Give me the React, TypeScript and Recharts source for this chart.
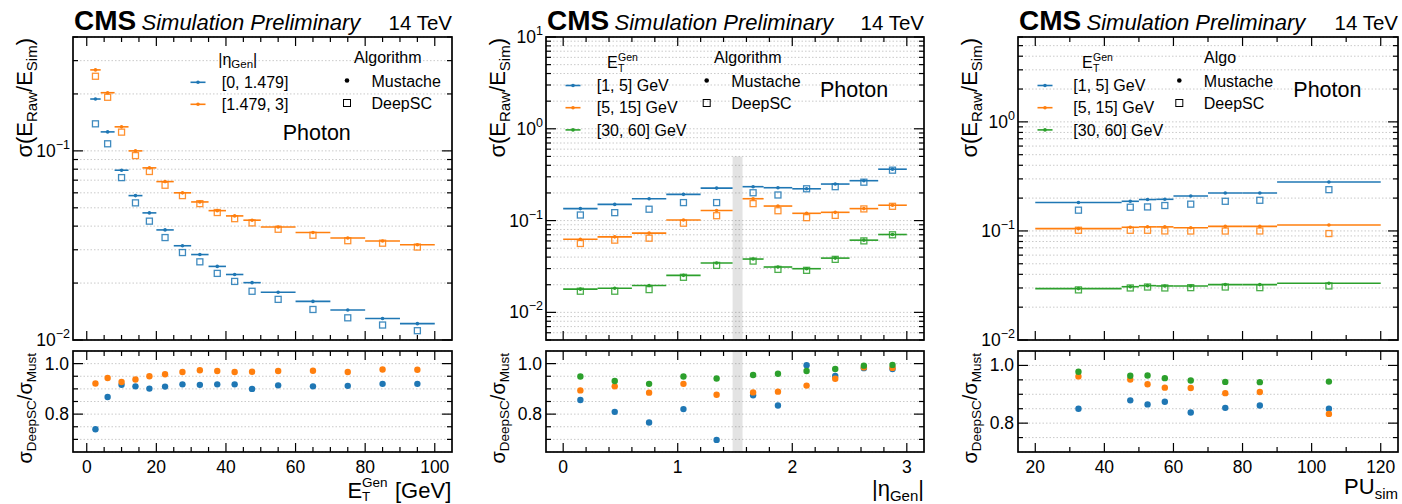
import React from 'react';
import { ComposedChart, Scatter, XAxis, YAxis, CartesianGrid, ErrorBar, ReferenceArea } from 'recharts';

const FONT = '"Liberation Sans", Arial, Helvetica, sans-serif';
const BLUE = '#1f77b4';
const ORANGE = '#ff7f0e';
const GREEN = '#2ca02c';

// ---- left panel: resolution vs E_T^Gen, two |eta| regions ----
const etEdges = [1, 4, 8, 12, 16, 20, 25, 30, 35, 40, 45, 50, 60, 70, 80, 90, 100];
const etMustBarrel = [0.188, 0.126, 0.079, 0.058, 0.047, 0.0382, 0.0315, 0.0283, 0.0245, 0.0222, 0.0201, 0.0179, 0.016, 0.0144, 0.013, 0.0122];
const etDeepBarrel = [0.139, 0.109, 0.0722, 0.0531, 0.0425, 0.0348, 0.029, 0.0259, 0.0225, 0.0204, 0.0181, 0.0164, 0.0145, 0.0131, 0.012, 0.0112];
const etMustEndcap = [0.268, 0.203, 0.134, 0.1, 0.0813, 0.0688, 0.06, 0.0537, 0.0483, 0.0453, 0.043, 0.0396, 0.037, 0.0346, 0.0334, 0.0319];
const etDeepEndcap = [0.248, 0.192, 0.1256, 0.0944, 0.0778, 0.0658, 0.058, 0.0526, 0.0472, 0.0438, 0.0416, 0.0385, 0.0358, 0.0335, 0.0325, 0.031];
const etRatioBarrel = [0.74, 0.868, 0.916, 0.91, 0.901, 0.909, 0.918, 0.916, 0.918, 0.918, 0.9, 0.914, 0.91, 0.912, 0.92, 0.92];
const etRatioEndcap = [0.921, 0.943, 0.927, 0.937, 0.95, 0.958, 0.967, 0.974, 0.971, 0.967, 0.968, 0.971, 0.972, 0.967, 0.977, 0.976];

// ---- middle panel: resolution vs |eta_Gen|, three E_T bins ----
const etaLo = [0, 0.3, 0.6, 0.9, 1.2, 1.566, 1.75, 2.0, 2.25, 2.5, 2.75];
const etaHi = [0.3, 0.6, 0.9, 1.2, 1.479, 1.75, 2.0, 2.25, 2.5, 2.75, 3.0];
const etaGap = [1.479, 1.566];
const etaMust1 = [0.135, 0.15, 0.173, 0.193, 0.226, 0.234, 0.228, 0.222, 0.25, 0.272, 0.363];
const etaDeep1 = [0.115, 0.122, 0.133, 0.157, 0.157, 0.201, 0.19, 0.222, 0.234, 0.262, 0.354];
const etaMust2 = [0.0627, 0.0665, 0.073, 0.1016, 0.129, 0.173, 0.144, 0.12, 0.123, 0.135, 0.147];
const etaDeep2 = [0.0563, 0.0612, 0.0643, 0.0936, 0.113, 0.153, 0.128, 0.1076, 0.114, 0.134, 0.143];
const etaMust3 = [0.0179, 0.0183, 0.0196, 0.0253, 0.0345, 0.0381, 0.0312, 0.0299, 0.039, 0.0612, 0.0705];
const etaDeep3 = [0.017, 0.017, 0.0177, 0.0241, 0.0325, 0.0362, 0.0294, 0.0287, 0.0378, 0.0601, 0.07];
const etaRatio1 = [0.856, 0.809, 0.767, 0.82, 0.698, 0.875, 0.834, 0.994, 0.951, 0.982, 0.979];
const etaRatio2 = [0.894, 0.91, 0.885, 0.92, 0.877, 0.886, 0.889, 0.913, 0.94, 0.985, 0.983];
const etaRatio3 = [0.949, 0.931, 0.92, 0.949, 0.941, 0.955, 0.96, 0.971, 0.979, 0.992, 0.995];

// ---- right panel: resolution vs PU_sim ----
const puEdges = [20, 45, 50, 55, 60, 70, 80, 90, 120];
const puMust1 = [0.182, 0.187, 0.194, 0.195, 0.209, 0.223, 0.223, 0.281];
const puDeep1 = [0.155, 0.165, 0.166, 0.171, 0.176, 0.187, 0.191, 0.239];
const puMust2 = [0.105, 0.108, 0.109, 0.109, 0.107, 0.11, 0.11, 0.1135];
const puDeep2 = [0.1014, 0.1014, 0.1014, 0.1, 0.0998, 0.0998, 0.0999, 0.0946];
const puMust3 = [0.0296, 0.0308, 0.0315, 0.0313, 0.0313, 0.0322, 0.0322, 0.0331];
const puDeep3 = [0.0288, 0.03, 0.0306, 0.03, 0.0302, 0.0306, 0.0302, 0.0313];
const puRatio1 = [0.85, 0.879, 0.865, 0.874, 0.837, 0.853, 0.861, 0.85];
const puRatio2 = [0.962, 0.951, 0.935, 0.923, 0.922, 0.904, 0.908, 0.832];
const puRatio3 = [0.978, 0.964, 0.965, 0.956, 0.948, 0.943, 0.942, 0.944];

// legend labels
const etaLabels = ['[0, 1.479]', '[1.479, 3]'];
const etLabels = ['[1, 5] GeV', '[5, 15] GeV', '[30, 60] GeV'];

type Pt = { x: number; y: number; xe: number };
interface Series { color: string; must: Pt[]; deep: Pt[]; ratio: Pt[] }

const binned = (lo: number[], hi: number[], vals: number[]): Pt[] =>
  vals.map((v, i) => ({ x: (lo[i] + hi[i]) / 2, y: v, xe: (hi[i] - lo[i]) / 2 }));

const range = (a: number, b: number, step: number) => {
  const out: number[] = [];
  for (let v = a; v <= b + 1e-9; v += step) out.push(+v.toFixed(4));
  return out;
};

const logTicks = (lo: number, hi: number) => {
  const out: number[] = [];
  for (let e = -3; e <= 1; e++)
    for (let m = 1; m <= 9; m++) {
      const v = +(m * Math.pow(10, e)).toPrecision(3);
      if (v >= lo - 1e-12 && v <= hi + 1e-12) out.push(v);
    }
  return out;
};

const isDecade = (v: number) => Math.abs(Math.log10(v) - Math.round(Math.log10(v))) < 1e-6;

// frame geometry
const MAIN_TOP = 37;
const MAIN_H = 303;
const RATIO_TOP = 351;
const RATIO_H = 101;
const YW = 60;
const PAD = 4;
const PADV = 14;

interface PanelProps {
  L: number;
  W: number;
  xDomain: [number, number];
  xTicks: number[];
  xMajor: number[];
  yDomain: [number, number];
  ratioDomain: [number, number];
  ratioTicks: number[];
  series: Series[];
  band?: [number, number, number];
}

const dot = (color: string) => (p: any) => <circle cx={p.cx} cy={p.cy} r={1.8} fill={color} />;
const square = (color: string) => (p: any) => (
  <rect x={p.cx - 3} y={p.cy - 3} width={6} height={6} fill="none" stroke={color} strokeOpacity={0.85} strokeWidth={1.3} />
);
const bigDot = (color: string) => (p: any) => <circle cx={p.cx} cy={p.cy} r={3.2} fill={color} />;

const Panel: React.FC<PanelProps> = ({ L, W, xDomain, xTicks, xMajor, yDomain, ratioDomain, ratioTicks, series, band }) => {
  const yTicks = logTicks(yDomain[0], yDomain[1]);

  const xTick = (labels: boolean, plotH: number) => (p: any) => {
    const v = p.payload.value;
    const major = xMajor.some((m) => Math.abs(m - v) < 1e-6);
    const len = major ? 9 : 5;
    return (
      <g>
        <line x1={p.x} x2={p.x} y1={p.y} y2={p.y - len} stroke="#000" strokeWidth={1.2} />
        <line x1={p.x} x2={p.x} y1={p.y - plotH} y2={p.y - plotH + len} stroke="#000" strokeWidth={1.2} />
        {labels && major && (
          <text x={p.x} y={p.y + 21} textAnchor="middle" fontSize={17.5} fontFamily={FONT} fill="#000">
            {v}
          </text>
        )}
      </g>
    );
  };

  const yLogTick = (p: any) => {
    const v = p.payload.value;
    const major = isDecade(v);
    const len = major ? 10 : 5;
    const e = Math.round(Math.log10(v));
    return (
      <g>
        <line x1={p.x} x2={p.x + len} y1={p.y} y2={p.y} stroke="#000" strokeWidth={1.2} />
        <line x1={p.x + W} x2={p.x + W - len} y1={p.y} y2={p.y} stroke="#000" strokeWidth={1.2} />
        {major && (
          <text x={p.x - 3} y={p.y + 6} textAnchor="end" fontSize={17.5} fontFamily={FONT} fill="#000">
            10<tspan dy={-8} fontSize={12.5}>{e < 0 ? '\u2212' + -e : String(e)}</tspan>
          </text>
        )}
      </g>
    );
  };

  const yRatioTick = (p: any) => {
    const v = p.payload.value;
    const major = Math.abs(v - 0.8) < 1e-6 || Math.abs(v - 1) < 1e-6;
    const len = major ? 10 : 5;
    return (
      <g>
        <line x1={p.x} x2={p.x + len} y1={p.y} y2={p.y} stroke="#000" strokeWidth={1.2} />
        <line x1={p.x + W} x2={p.x + W - len} y1={p.y} y2={p.y} stroke="#000" strokeWidth={1.2} />
        {major && (
          <text x={p.x - 4} y={p.y + 6} textAnchor="end" fontSize={17.5} fontFamily={FONT} fill="#000">
            {v.toFixed(1)}
          </text>
        )}
      </g>
    );
  };

  const grid = <CartesianGrid vertical={false} stroke="#bdbdbd" strokeDasharray="1.5 2" strokeWidth={0.8} />;

  return (
    <>
      <div style={{ position: 'absolute', left: L - YW, top: MAIN_TOP - PADV }}>
        <ComposedChart width={YW + W + PAD} height={PADV + MAIN_H + PADV} margin={{ top: PADV, right: PAD, bottom: 0, left: 0 }}>
          {grid}
          <XAxis type="number" dataKey="x" domain={xDomain} ticks={xTicks} interval={0} allowDataOverflow axisLine={false}
            tickLine={false} tickSize={0} tickMargin={0} height={PADV} tick={xTick(false, MAIN_H)} />
          <YAxis type="number" dataKey="y" scale="log" domain={yDomain} ticks={yTicks} interval={0} allowDataOverflow
            axisLine={false} tickLine={false} tickSize={0} tickMargin={0} width={YW} tick={yLogTick} />
          {band && (
            <ReferenceArea x1={band[0]} x2={band[1]} y1={yDomain[0]} y2={band[2]} fill="#000" fillOpacity={0.11} stroke="none" />
          )}
          {series.map((s, i) => (
            <Scatter key={'m' + i} data={s.must} isAnimationActive={false} shape={dot(s.color)}>
              <ErrorBar dataKey="xe" direction="x" width={0} stroke={s.color} strokeWidth={1.6} isAnimationActive={false} />
            </Scatter>
          ))}
          {series.map((s, i) => (
            <Scatter key={'d' + i} data={s.deep} isAnimationActive={false} shape={square(s.color)} />
          ))}
        </ComposedChart>
      </div>
      <div style={{ position: 'absolute', left: L - YW, top: RATIO_TOP - PADV }}>
        <ComposedChart width={YW + W + PAD} height={PADV + RATIO_H + 30} margin={{ top: PADV, right: PAD, bottom: 0, left: 0 }}>
          {grid}
          <XAxis type="number" dataKey="x" domain={xDomain} ticks={xTicks} interval={0} allowDataOverflow axisLine={false}
            tickLine={false} tickSize={0} tickMargin={0} height={30} tick={xTick(true, RATIO_H)} />
          <YAxis type="number" dataKey="y" domain={ratioDomain} ticks={ratioTicks} interval={0} allowDataOverflow
            axisLine={false} tickLine={false} tickSize={0} tickMargin={0} width={YW} tick={yRatioTick} />
          {band && <ReferenceArea x1={band[0]} x2={band[1]} fill="#000" fillOpacity={0.11} stroke="none" />}
          {series.map((s, i) => (
            <Scatter key={'r' + i} data={s.ratio} isAnimationActive={false} shape={bigDot(s.color)} />
          ))}
        </ComposedChart>
      </div>
    </>
  );
};

const Header: React.FC<{ L: number; R: number }> = ({ L, R }) => (
  <g fontFamily={FONT} fill="#000">
    <text x={L + 1} y={30} fontSize={28} fontWeight="bold">CMS</text>
    <text x={L + 68.5} y={30} fontSize={22} fontStyle="italic">Simulation Preliminary</text>
    <text x={R} y={30} fontSize={20.5} textAnchor="end">14 TeV</text>
  </g>
);

const YLabels: React.FC<{ L: number }> = ({ L }) => (
  <g fontFamily={FONT} fill="#000">
    <text transform={`translate(${L - 41},${MAIN_TOP + 1}) rotate(-90)`} textAnchor="end" fontSize={22}>
      σ(E<tspan fontSize={15} dy={5}>Raw</tspan>
      <tspan dy={-5}>/E</tspan>
      <tspan fontSize={15} dy={5}>Sim</tspan>
      <tspan dy={-5}>)</tspan>
    </text>
    <text transform={`translate(${L - 41},${RATIO_TOP + 2}) rotate(-90)`} textAnchor="end" fontSize={20}>
      σ<tspan fontSize={13.5} dy={4}>DeepSC</tspan>
      <tspan dy={-4}>/σ</tspan>
      <tspan fontSize={13.5} dy={4}>Must</tspan>
    </text>
  </g>
);

const LineGlyph: React.FC<{ x: number; y: number; color: string }> = ({ x, y, color }) => (
  <g>
    <line x1={x - 7.5} x2={x + 7.5} y1={y} y2={y} stroke={color} strokeWidth={1.6} />
    <circle cx={x} cy={y} r={1.8} fill={color} />
  </g>
);

const AlgoLegend: React.FC<{ x: number; title: string; titleX: number }> = ({ x, title, titleX }) => (
  <g fontFamily={FONT} fill="#000" fontSize={16}>
    <text x={titleX} y={63}>{title}</text>
    <circle cx={x} cy={80.5} r={2.3} fill="#000" />
    <text x={x + 24.5} y={86.5}>Mustache</text>
    <rect x={x - 3.5} y={99.5} width={7} height={7} fill="none" stroke="#000" strokeWidth={1} />
    <text x={x + 24.5} y={108.8}>DeepSC</text>
  </g>
);

const EtLegend: React.FC<{ lineX: number; textX: number; titleX: number }> = ({ lineX, textX, titleX }) => (
  <g fontFamily={FONT} fill="#000">
    <text x={titleX} y={68} fontSize={16}>E</text>
    <text x={titleX + 11} y={61} fontSize={10.5}>Gen</text>
    <text x={titleX + 11} y={71.5} fontSize={10.5}>T</text>
    {etLabels.map((lab, i) => (
      <g key={lab}>
        <LineGlyph x={lineX} y={85.5 + i * 22.2} color={[BLUE, ORANGE, GREEN][i]} />
        <text x={textX} y={91.2 + i * 22.2} fontSize={16}>{lab}</text>
      </g>
    ))}
  </g>
);

const P1 = { L: 73, W: 379 };
const P2 = { L: 546, W: 378 };
const P3 = { L: 1018, W: 380 };

export default function App() {
  const etLo = etEdges.slice(0, -1);
  const etHi = etEdges.slice(1);
  const puLo = puEdges.slice(0, -1);
  const puHi = puEdges.slice(1);

  const s1: Series[] = [
    { color: BLUE, must: binned(etLo, etHi, etMustBarrel), deep: binned(etLo, etHi, etDeepBarrel), ratio: binned(etLo, etHi, etRatioBarrel) },
    { color: ORANGE, must: binned(etLo, etHi, etMustEndcap), deep: binned(etLo, etHi, etDeepEndcap), ratio: binned(etLo, etHi, etRatioEndcap) },
  ];
  const s2: Series[] = [
    { color: BLUE, must: binned(etaLo, etaHi, etaMust1), deep: binned(etaLo, etaHi, etaDeep1), ratio: binned(etaLo, etaHi, etaRatio1) },
    { color: ORANGE, must: binned(etaLo, etaHi, etaMust2), deep: binned(etaLo, etaHi, etaDeep2), ratio: binned(etaLo, etaHi, etaRatio2) },
    { color: GREEN, must: binned(etaLo, etaHi, etaMust3), deep: binned(etaLo, etaHi, etaDeep3), ratio: binned(etaLo, etaHi, etaRatio3) },
  ];
  const s3: Series[] = [
    { color: BLUE, must: binned(puLo, puHi, puMust1), deep: binned(puLo, puHi, puDeep1), ratio: binned(puLo, puHi, puRatio1) },
    { color: ORANGE, must: binned(puLo, puHi, puMust2), deep: binned(puLo, puHi, puDeep2), ratio: binned(puLo, puHi, puRatio2) },
    { color: GREEN, must: binned(puLo, puHi, puMust3), deep: binned(puLo, puHi, puDeep3), ratio: binned(puLo, puHi, puRatio3) },
  ];

  return (
    <div style={{ position: 'absolute', left: 0, top: 0, width: 1402, height: 504, background: '#fff', overflow: 'hidden' }}>
      <Panel {...P1} xDomain={[-3.95, 104.95]} xTicks={range(0, 100, 5)} xMajor={range(0, 100, 20)} yDomain={[0.01, 0.4]}
        ratioDomain={[0.65, 1.05]} ratioTicks={range(0.7, 1.0, 0.05)} series={s1} />
      <Panel {...P2} xDomain={[-0.15, 3.15]} xTicks={range(0, 3, 0.2)} xMajor={[0, 1, 2, 3]} yDomain={[0.005, 10]}
        ratioDomain={[0.65, 1.05]} ratioTicks={range(0.7, 1.0, 0.05)} series={s2} band={[etaGap[0], etaGap[1], 0.5]} />
      <Panel {...P3} xDomain={[15, 125]} xTicks={range(20, 120, 10)} xMajor={range(20, 120, 20)} yDomain={[0.01, 6]}
        ratioDomain={[0.7, 1.05]} ratioTicks={range(0.75, 1.0, 0.05)} series={s3} />

      <svg width={1402} height={504} style={{ position: 'absolute', left: 0, top: 0, pointerEvents: 'none' }}>
        {[P1, P2, P3].map((p) => (
          <g key={p.L}>
            <rect x={p.L} y={MAIN_TOP} width={p.W} height={MAIN_H} fill="none" stroke="#000" strokeWidth={1.7} />
            <rect x={p.L} y={RATIO_TOP} width={p.W} height={RATIO_H} fill="none" stroke="#000" strokeWidth={1.7} />
            <Header L={p.L} R={p.L + p.W} />
            <YLabels L={p.L} />
          </g>
        ))}

        {/* left panel legend */}
        <g fontFamily={FONT} fill="#000">
          <text x={218.3} y={65} fontSize={16}>
            |η<tspan fontSize={11.5} dy={3}>Gen</tspan>
            <tspan dy={-3}>|</tspan>
          </text>
          {etaLabels.map((lab, i) => (
            <g key={lab}>
              <LineGlyph x={198} y={82.3 + i * 22} color={[BLUE, ORANGE][i]} />
              <text x={221.7} y={88 + i * 22} fontSize={16}>{lab}</text>
            </g>
          ))}
          <text x={282.7} y={140} fontSize={21.5}>Photon</text>
        </g>
        <AlgoLegend x={347} title="Algorithm" titleX={354} />

        {/* middle panel legend */}
        <EtLegend lineX={573} textX={596.7} titleX={607} />
        <AlgoLegend x={706.7} title="Algorithm" titleX={714} />
        <text x={820} y={97.3} fontSize={21.5} fontFamily={FONT}>Photon</text>

        {/* right panel legend */}
        <EtLegend lineX={1045} textX={1073.3} titleX={1082} />
        <AlgoLegend x={1179.3} title="Algo" titleX={1204} />
        <text x={1293.3} y={97} fontSize={21.5} fontFamily={FONT}>Photon</text>

        {/* x axis labels */}
        <g fontFamily={FONT} fill="#000">
          <text x={347.5} y={498} fontSize={22}>E</text>
          <text x={362} y={487} fontSize={13.5}>Gen</text>
          <text x={362} y={501} fontSize={13.5}>T</text>
          <text x={395} y={498} fontSize={22}>[GeV]</text>
          <text x={924} y={496} fontSize={22} textAnchor="end">
            |η<tspan fontSize={15} dy={5}>Gen</tspan>
            <tspan dy={-5}>|</tspan>
          </text>
          <text x={1398} y={494} fontSize={22} textAnchor="end">
            PU<tspan fontSize={15} dy={5}>sim</tspan>
          </text>
        </g>
      </svg>
    </div>
  );
}
